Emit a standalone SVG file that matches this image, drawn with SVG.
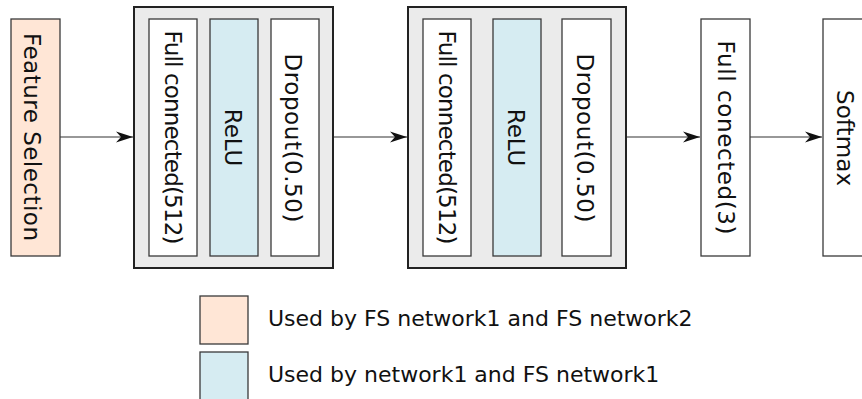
<svg xmlns="http://www.w3.org/2000/svg" width="862" height="399" viewBox="0 0 862 399">
<style>
.box{stroke:#3a3a3a;stroke-width:1.3}
.grp{fill:#ebebeb;stroke:#222;stroke-width:2}
.w{fill:#ffffff}
.fs{fill:#ffe6d6}
.relu{fill:#d6ecf2}
text{font-family:"DejaVu Sans","Liberation Sans",sans-serif;font-size:22px;fill:#111}
.rot{font-size:23px}
.conn{stroke:#333;stroke-width:1.2;fill:none}
</style>
<defs>
<marker id="arr" markerUnits="userSpaceOnUse" markerWidth="20" markerHeight="14" refX="17" refY="6" orient="auto">
<path d="M0,0.5 L17,6 L0,11.5 L5,6 Z" fill="#111"/>
</marker>
</defs>
<g id="connectors">
<line class="conn" x1="60" y1="137" x2="133" y2="137" marker-end="url(#arr)"/>
<line class="conn" x1="334" y1="137" x2="407" y2="137" marker-end="url(#arr)"/>
<line class="conn" x1="627" y1="137" x2="700" y2="137" marker-end="url(#arr)"/>
<line class="conn" x1="750" y1="137" x2="822" y2="137" marker-end="url(#arr)"/>
</g>
<g id="feature-selection">
<rect class="box fs" x="11" y="19" width="49" height="237"/>
<text class="rot" transform="translate(24,137) rotate(90)" text-anchor="middle" textLength="208" lengthAdjust="spacing">Feature Selection</text>
</g>
<g id="block1">
<rect class="grp" x="134" y="7" width="199" height="261"/>
<g id="fc1">
<rect class="box w" x="149" y="19" width="48" height="237"/>
<text class="rot" transform="translate(164.5,137.5) rotate(90)" text-anchor="middle" textLength="214" lengthAdjust="spacing">Full connected(512)</text>
</g>
<g id="relu1">
<rect class="box relu" x="210" y="19" width="48" height="237"/>
<text class="rot" transform="translate(224.5,137.5) rotate(90)" text-anchor="middle">ReLU</text>
</g>
<g id="dropout1">
<rect class="box w" x="271" y="19" width="48" height="237"/>
<text class="rot" transform="translate(284.5,138) rotate(90)" text-anchor="middle" textLength="169" lengthAdjust="spacing">Dropout(0.50)</text>
</g>
</g>
<g id="block2">
<rect class="grp" x="408" y="7" width="218" height="261"/>
<g id="fc2">
<rect class="box w" x="423" y="19" width="48" height="237"/>
<text class="rot" transform="translate(438.5,137.5) rotate(90)" text-anchor="middle" textLength="214" lengthAdjust="spacing">Full connected(512)</text>
</g>
<g id="relu2">
<rect class="box relu" x="493" y="19" width="48" height="237"/>
<text class="rot" transform="translate(507.5,137.5) rotate(90)" text-anchor="middle">ReLU</text>
</g>
<g id="dropout2">
<rect class="box w" x="562" y="19" width="49" height="237"/>
<text class="rot" transform="translate(576.5,138) rotate(90)" text-anchor="middle" textLength="169" lengthAdjust="spacing">Dropout(0.50)</text>
</g>
</g>
<g id="fc3">
<rect class="box w" x="701" y="19" width="49" height="237"/>
<text class="rot" transform="translate(717.5,137.5) rotate(90)" text-anchor="middle" textLength="194" lengthAdjust="spacing">Full conected(3)</text>
</g>
<g id="softmax">
<rect class="box w" x="823" y="19" width="48" height="237"/>
<text class="rot" transform="translate(836.5,138) rotate(90)" text-anchor="middle" textLength="96" lengthAdjust="spacing">Softmax</text>
</g>
<g id="legend">
<rect class="box fs" x="200" y="296" width="48" height="48"/>
<text x="268" y="326">Used by FS network1 and FS network2</text>
<rect class="box relu" x="200" y="352" width="48" height="50"/>
<text x="268" y="382">Used by network1 and FS network1</text>
</g>
</svg>
